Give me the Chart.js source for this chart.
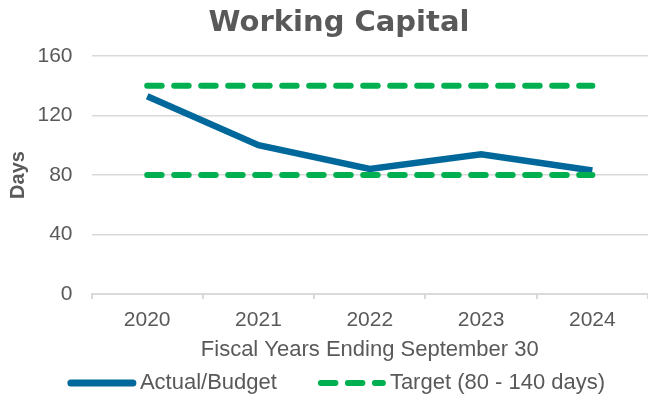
<!DOCTYPE html>
<html>
<head>
<meta charset="utf-8">
<title>Working Capital</title>
<script src="https://cdn.jsdelivr.net/npm/chart.js@4/dist/chart.umd.min.js"></script>
<style>
  html, body { margin: 0; padding: 0; background: #ffffff; }
  #wrap { position: relative; width: 648px; height: 398px; }
</style>
</head>
<body>
<div id="wrap"><canvas id="chart"></canvas></div>
<script>
// Fiscal years on the category axis
const categories = ['2020', '2021', '2022', '2023', '2024'];
// Working capital, in days
const actualDays = [133, 100, 84, 94, 83];
// Target band edges (80 - 140 days)
const targetLow = [80, 80, 80, 80, 80];
const targetHigh = [140, 140, 140, 140, 140];
// Value-axis ticks
const dayTicks = [0, 40, 80, 120, 160];

const TEXT = '#595959';
const GRID = '#d9d9d9';
const BLUE = '#00689a';
const GREEN = '#00b050';
const SANS = "'Liberation Sans', Arial, sans-serif";

// Legend drawn as line samples with labels under the axis title
const lineLegend = {
  id: 'lineLegend',
  afterDraw(chart, args, opts) {
    const ctx = chart.ctx;
    const items = chart.data.datasets.filter(d => d.inLegend !== false);
    ctx.save();
    ctx.font = opts.size + 'px ' + opts.family;
    const widths = items.map(d => opts.sample + opts.textGap + ctx.measureText(d.label).width);
    const total = widths.reduce((a, b) => a + b, 0) + opts.itemGap * (items.length - 1);
    const tb = chart.titleBlock;
    let x = (tb.left + tb.right) / 2 - total / 2 + opts.shift;
    const y = chart.height - opts.fromBottom;
    items.forEach((d, i) => {
      ctx.beginPath();
      ctx.strokeStyle = d.borderColor;
      ctx.lineWidth = d.legendWidth || d.borderWidth;
      ctx.lineCap = 'round';
      ctx.setLineDash(d.borderDash || []);
      ctx.moveTo(x, y);
      ctx.lineTo(x + opts.sample, y);
      ctx.stroke();
      ctx.setLineDash([]);
      ctx.fillStyle = opts.color;
      ctx.textAlign = 'left';
      ctx.textBaseline = 'middle';
      ctx.fillText(d.label, x + opts.sample + opts.textGap, y);
      x += widths[i] + opts.itemGap;
    });
    ctx.restore();
  }
};

new Chart(document.getElementById('chart'), {
  type: 'line',
  data: {
    labels: categories,
    datasets: [
      {
        label: 'Actual/Budget',
        data: actualDays,
        borderColor: BLUE,
        backgroundColor: BLUE,
        borderWidth: 6.5,
        legendWidth: 7,
        pointRadius: 0,
        tension: 0,
        order: 2
      },
      {
        label: 'Target (80 - 140 days)',
        data: targetLow,
        borderColor: GREEN,
        backgroundColor: GREEN,
        borderWidth: 6,
        borderDash: [14.5, 12.5],
        borderCapStyle: 'round',
        pointRadius: 0,
        order: 1
      },
      {
        label: 'Target (80 - 140 days)',
        inLegend: false,
        data: targetHigh,
        borderColor: GREEN,
        backgroundColor: GREEN,
        borderWidth: 6,
        borderDash: [14.5, 12.5],
        borderCapStyle: 'round',
        pointRadius: 0,
        order: 1
      }
    ]
  },
  options: {
    responsive: true,
    maintainAspectRatio: false,
    animation: false,
    devicePixelRatio: 1,
    layout: { padding: { left: 30, right: 0, top: 0, bottom: 35.3 } },
    plugins: {
      legend: { display: false },
      tooltip: { enabled: false },
      title: {
        display: true,
        text: 'Working Capital',
        color: TEXT,
        font: { family: "'DejaVu Sans', sans-serif", weight: 'bold', size: 29, lineHeight: 1.2 },
        padding: { top: 6.1, bottom: 15.1 }
      },
      lineLegend: {
        family: SANS,
        size: 22,
        color: TEXT,
        sample: 62,
        textGap: 7,
        itemGap: 44,
        shift: -1,
        fromBottom: 15
      }
    },
    scales: {
      x: {
        type: 'category',
        offset: true,
        grid: {
          offset: true,
          drawOnChartArea: false,
          drawTicks: true,
          tickLength: 5,
          color: GRID,
          lineWidth: 2
        },
        border: { display: true, color: GRID, width: 2 },
        ticks: {
          color: TEXT,
          font: { family: SANS, size: 21 },
          padding: 9,
          maxRotation: 0
        },
        title: {
          display: true,
          text: 'Fiscal Years Ending September 30',
          color: TEXT,
          font: { family: SANS, size: 22, lineHeight: 1.2 },
          padding: { top: -5.9, bottom: 0 }
        }
      },
      y: {
        min: 0,
        max: 160,
        afterBuildTicks(scale) {
          scale.ticks = dayTicks.map(v => ({ value: v }));
        },
        grid: { color: GRID, lineWidth: 1.5, drawTicks: false },
        border: { display: false },
        ticks: {
          color: TEXT,
          font: { family: SANS, size: 21 },
          padding: 19
        },
        title: {
          display: true,
          text: 'Days',
          color: TEXT,
          font: { family: SANS, size: 20, weight: 'bold', lineHeight: 1.2 },
          padding: { top: -24, bottom: -11.5 }
        }
      }
    }
  },
  plugins: [lineLegend]
});
</script>
</body>
</html>
